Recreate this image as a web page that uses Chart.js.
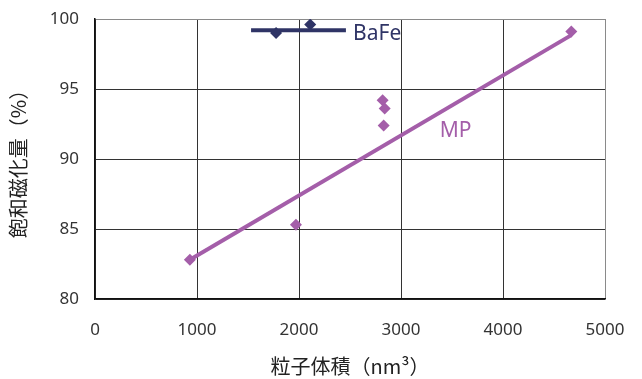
<!DOCTYPE html>
<html>
<head>
<meta charset="utf-8">
<script src="https://cdn.jsdelivr.net/npm/chart.js@4/dist/chart.umd.min.js"></script>
<style>
  html, body { margin: 0; padding: 0; background: #fff; }
  #wrap { width: 642px; height: 379px; }
</style>
</head>
<body>
<div id="wrap"><canvas id="satChart"></canvas></div>
<script>
// MP (metal particle) measured points
const mpVolume = [930, 1970, 2820, 2840, 2830, 4670];
const mpSaturation = [82.8, 85.3, 94.2, 93.6, 92.4, 99.1];

// MP trend line
const mpFitVolume = [930, 4670];
const mpFitSaturation = [82.8, 98.85];

// BaFe points and flat line
const bafeVolume = [1775, 2110];
const bafeSaturation = [99.0, 99.6];
const bafeLineVolume = [1530, 2460];
const bafeLineSaturation = [99.2, 99.2];

const xTicks = [0, 1000, 2000, 3000, 4000, 5000];
const yTicks = [80, 85, 90, 95, 100];

const MP_COLOR = '#a45ea9';
const BAFE_COLOR = '#2f3466';

function toPoints(xs, ys) {
    return xs.map((x, i) => ({ x: x, y: ys[i] }));
}

// series names written next to the data
const seriesLabels = {
    id: 'seriesLabels',
    afterDatasetsDraw(chart) {
        const { ctx, scales: { x, y } } = chart;
        ctx.save();
        ctx.font = '21px "Noto Sans", "Noto Sans CJK JP", sans-serif';
        ctx.textBaseline = 'middle';
        ctx.textAlign = 'left';
        ctx.fillStyle = BAFE_COLOR;
        ctx.fillText('BaFe', x.getPixelForValue(2530), y.getPixelForValue(98.9));
        ctx.fillStyle = MP_COLOR;
        ctx.fillText('MP', x.getPixelForValue(3380), y.getPixelForValue(92.0));
        ctx.restore();
    }
};

const gridColor = (ctx) => ctx.index === ctx.scale.ticks.length - 1 ? '#8a8a8a' : '#333';

new Chart(document.getElementById('satChart'), {
    type: 'scatter',
    data: {
        datasets: [
            {
                data: toPoints(mpFitVolume, mpFitSaturation),
                showLine: true,
                borderColor: MP_COLOR,
                borderWidth: 4,
                pointRadius: 0
            },
            {
                data: toPoints(mpVolume, mpSaturation),
                pointStyle: 'rectRot',
                pointRadius: 6,
                backgroundColor: MP_COLOR,
                borderColor: MP_COLOR,
                borderWidth: 0
            },
            {
                data: toPoints(bafeLineVolume, bafeLineSaturation),
                showLine: true,
                borderColor: BAFE_COLOR,
                borderWidth: 4,
                pointRadius: 0
            },
            {
                data: toPoints(bafeVolume, bafeSaturation),
                pointStyle: 'rectRot',
                pointRadius: 6,
                backgroundColor: BAFE_COLOR,
                borderColor: BAFE_COLOR,
                borderWidth: 0
            }
        ]
    },
    options: {
        responsive: true,
        maintainAspectRatio: false,
        animation: false,
        layout: { padding: { top: 19, right: 37, left: 0, bottom: 0 } },
        plugins: {
            legend: { display: false },
            tooltip: { enabled: false }
        },
        scales: {
            x: {
                type: 'linear',
                min: 0,
                max: 5000,
                afterBuildTicks: (scale) => { scale.ticks = xTicks.map(v => ({ value: v })); },
                afterFit: (scale) => {
                    scale.height = 80;
                    scale.paddingLeft = 0;
                    scale.paddingRight = 0;
                },
                grid: { color: gridColor, lineWidth: 1, drawTicks: false },
                border: { color: '#111', width: 1.5 },
                ticks: {
                    padding: 21,
                    color: '#333',
                    callback: (v) => String(v),
                    font: { size: 17, family: '"Noto Sans", sans-serif' }
                },
                title: {
                    display: true,
                    text: '粒子体積（nm³）',
                    color: '#222',
                    padding: { top: 0, bottom: 1 },
                    font: { size: 20, family: '"Noto Sans CJK JP", sans-serif' }
                }
            },
            y: {
                type: 'linear',
                min: 80,
                max: 100,
                afterBuildTicks: (scale) => { scale.ticks = yTicks.map(v => ({ value: v })); },
                afterFit: (scale) => {
                    scale.width = 95;
                    scale.paddingTop = 0;
                    scale.paddingBottom = 0;
                },
                grid: { color: gridColor, lineWidth: 1, drawTicks: false },
                border: { color: '#111', width: 1.5 },
                ticks: {
                    padding: 16,
                    color: '#333',
                    callback: (v) => String(v),
                    font: { size: 17, family: '"Noto Sans", sans-serif' }
                },
                title: {
                    display: true,
                    text: '飽和磁化量（%）',
                    color: '#222',
                    padding: { top: 6, bottom: 0 },
                    font: { size: 20, family: '"Noto Sans CJK JP", sans-serif' }
                }
            }
        }
    },
    plugins: [seriesLabels]
});
</script>
</body>
</html>
